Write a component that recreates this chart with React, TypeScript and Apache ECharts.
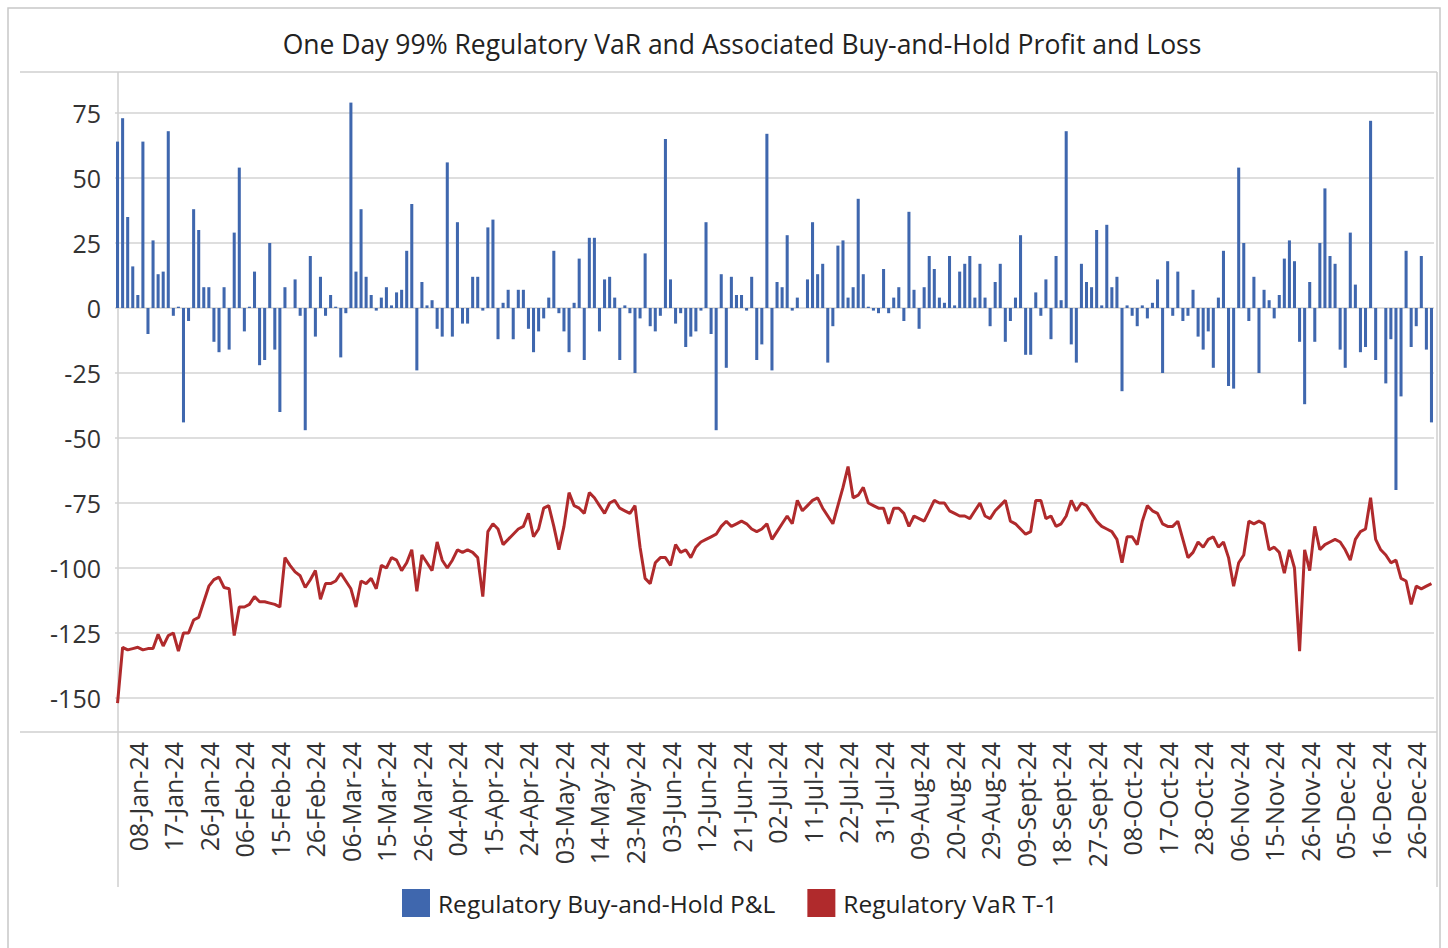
import React, { useEffect, useRef } from "react";
import * as echarts from "echarts";

const MONTHS = ["Jan", "Feb", "Mar", "Apr", "May", "Jun", "Jul", "Aug", "Sept", "Oct", "Nov", "Dec"];

// Trading days of 2024 (weekdays, 1 Jan and 25 Dec closed)
function buildDates(): string[] {
  const out: string[] = [];
  const d = new Date(2024, 0, 2);
  while (d.getFullYear() === 2024) {
    const wd = d.getDay();
    const closed = d.getMonth() === 11 && d.getDate() === 25;
    if (wd !== 0 && wd !== 6 && !closed) {
      const dd = String(d.getDate()).padStart(2, "0");
      out.push(`${dd}-${MONTHS[d.getMonth()]}-24`);
    }
    d.setDate(d.getDate() + 1);
  }
  return out;
}
const categories = buildDates();

const pnl = [
  64, 73, 35, 16, 5, 64, -10, 26, 13, 14,
  68, -3, 0.5, -44, -5, 38, 30, 8, 8, -13,
  -17, 8, -16, 29, 54, -9, 0.5, 14, -22, -20,
  25, -16, -40, 8, 0, 11, -3, -47, 20, -11,
  12, -3, 5, 0.5, -19, -2, 79, 14, 38, 12,
  5, -1, 4, 8, 1, 6, 7, 22, 40, -24,
  10, 1, 3, -8, -11, 56, -11, 33, -6, -6,
  12, 12, -1, 31, 34, -12, 2, 7, -12, 7,
  7, -8, -17, -9, -4, 4, 22, -2, -9, -17,
  2, 19, -20, 27, 27, -9, 11, 12, 4, -20,
  1, -2, -25, -4, 21, -7, -9, -3, 65, 11,
  -6, -2, -15, -11, -9, -1, 33, -10, -47, 13,
  -23, 12, 5, 5, -1, 12, -20, -14, 67, -24,
  10, 8, 28, -1, 4, 0, 11, 33, 13, 17,
  -21, -7, 24, 26, 4, 8, 42, 13, 0.5, -1,
  -2, 15, -2, 4, 8, -5, 37, 7, -8, 8,
  20, 15, 4, 2, 20, 1, 14, 17, 20, 4,
  17, 4, -7, 10, 17, -13, -5, 4, 28, -18,
  -18, 6, -3, 11, -12, 20, 3, 68, -14, -21,
  17, 10, 8, 30, 1, 32, 8, 12, -32, 1,
  -3, -7, 1, -4, 2, 11, -25, 18, -3, 14,
  -5, -3, 7, -11, -16, -9, -23, 4, 22, -30,
  -31, 54, 25, -5, 12, -25, 7, 3, -4, 5,
  19, 26, 18, -13, -37, 10, -13, 25, 46, 20,
  17, -16, -23, 29, 9, -17, -15, 72, -20, 0,
  -29, -12, -70, -34, 22, -15, -7, 20, -16, -44,
];

const varT1 = [
  -152, -130.5, -131.5, -131, -130.5, -131.5, -131, -131, -125.5, -130,
  -126, -125, -132, -125, -125, -120, -119, -113, -107, -104.5,
  -103.5, -107.5, -108, -126, -115, -115, -114, -111, -113, -113,
  -113.5, -114, -115, -96, -99, -101.5, -103, -107.5, -104.5, -101,
  -112, -106, -106, -105, -102, -105, -108, -115, -105, -106,
  -104, -108, -99, -100, -96, -97, -101, -98, -93, -109,
  -95, -98, -101, -90, -97, -100, -97, -93, -94, -93,
  -94, -96, -111, -86, -83, -85, -91, -89, -87, -85,
  -84, -79, -88, -85, -77, -76, -84, -93, -84, -71,
  -76, -77, -79, -71, -73, -76, -79, -75, -74, -77,
  -78, -79, -76, -92, -104, -106, -98, -96, -96, -99,
  -91, -94, -93, -96, -92, -90, -89, -88, -87, -84,
  -82, -84, -83, -82, -83, -85, -86, -85, -83, -89,
  -86, -83, -80, -83, -74, -78, -76, -74, -73, -77,
  -80, -83, -76, -69, -61, -73, -72, -69, -75, -76,
  -77, -77, -83, -77, -77, -79, -84, -80, -81, -82,
  -78, -74, -75, -75, -78, -79, -80, -80, -81, -78,
  -75, -80, -81, -78, -76, -74, -82, -83, -85, -87,
  -86, -74, -74, -81, -80, -84, -83, -80, -74, -78,
  -75, -76, -79, -82, -84, -85, -86, -89, -98, -88,
  -88, -91, -82, -76, -78, -79, -83, -84, -84, -82,
  -89, -96, -94, -90, -92, -89, -88, -92, -90, -96,
  -107, -98, -95, -82, -83, -82, -83, -93, -92, -94,
  -102, -93, -100, -132, -93, -101, -84, -93, -91, -90,
  -89, -90, -93, -97, -89, -86, -85, -73, -89, -93,
  -95, -98, -97, -104, -105, -114, -107, -108, -107, -106,
];

const yTicks = { min: -150, max: 75, step: 25 };
const FONT = "'Open Sans', 'Noto Sans', sans-serif";
const BLUE = "#3f67ae";
const RED = "#b02a2c";
const GRID_LINE = "#d3d3d3";

export default function App() {
  const ref = useRef<HTMLDivElement>(null);
  useEffect(() => {
    document.body.style.margin = "0";
    if (!ref.current) return;
    const chart = echarts.init(ref.current, undefined, { renderer: "svg" });
    const firstLabel = 4;
    chart.setOption({
      animation: false,
      backgroundColor: "#ffffff",
      textStyle: { fontFamily: FONT },
      title: {
        text: "One Day 99% Regulatory VaR and Associated Buy-and-Hold Profit and Loss",
        left: 737,
        textAlign: "center",
        top: 25,
        textStyle: { fontFamily: FONT, fontSize: 26.5, fontWeight: "normal", color: "#222" },
      },
      legend: {
        bottom: 26,
        left: 397,
        itemWidth: 28,
        itemHeight: 28,
        itemGap: 32,
        icon: "rect",
        textStyle: { fontFamily: FONT, fontSize: 24.5, color: "#222", padding: [0, 0, 0, 3] },
        data: [
          { name: "Regulatory Buy-and-Hold P&L", itemStyle: { color: BLUE } },
          { name: "Regulatory VaR T-1", itemStyle: { color: RED } },
        ],
      },
      grid: { left: 115, right: 14, top: 113, bottom: 250, containLabel: false },
      xAxis: {
        type: "category",
        data: categories,
        boundaryGap: true,
        offset: 34,
        axisLine: { show: false },
        axisTick: { show: false },
        axisLabel: {
          rotate: 90,
          margin: 10,
          fontFamily: FONT,
          fontSize: 25,
          color: "#333",
          interval: (i: number) => i >= firstLabel && (i - firstLabel) % 7 === 0,
        },
        splitLine: { show: false },
      },
      yAxis: {
        type: "value",
        min: yTicks.min,
        max: yTicks.max,
        interval: yTicks.step,
        axisLine: { show: false },
        axisTick: { show: false },
        axisLabel: { fontFamily: FONT, fontSize: 25, color: "#333", margin: 14 },
        splitLine: { lineStyle: { color: GRID_LINE, width: 1.5 } },
      },
      series: [
        {
          name: "Regulatory Buy-and-Hold P&L",
          type: "bar",
          data: pnl,
          barWidth: "60%",
          clip: false,
          itemStyle: { color: BLUE },
        },
        {
          name: "Regulatory VaR T-1",
          type: "line",
          data: varT1,
          showSymbol: false,
          clip: false,
          lineStyle: { color: RED, width: 3 },
          itemStyle: { color: RED },
          z: 3,
        },
      ],
      graphic: [
        { type: "rect", shape: { x: 8, y: 8, width: 1432, height: 960 }, style: { fill: "none", stroke: "#c8c8c8", lineWidth: 1.5 }, silent: true },
        { type: "line", shape: { x1: 20, y1: 72, x2: 1437, y2: 72 }, style: { stroke: "#cfcfcf", lineWidth: 1.5 }, silent: true },
        { type: "line", shape: { x1: 20, y1: 732, x2: 1437, y2: 732 }, style: { stroke: "#cfcfcf", lineWidth: 1.5 }, silent: true },
        { type: "line", shape: { x1: 118, y1: 72, x2: 118, y2: 887 }, style: { stroke: "#cfcfcf", lineWidth: 1.5 }, silent: true },
        { type: "line", shape: { x1: 1437, y1: 72, x2: 1437, y2: 887 }, style: { stroke: "#cfcfcf", lineWidth: 1.5 }, silent: true },
      ],
    });
    return () => chart.dispose();
  }, []);
  return <div ref={ref} style={{ width: 1448, height: 948 }} />;
}
